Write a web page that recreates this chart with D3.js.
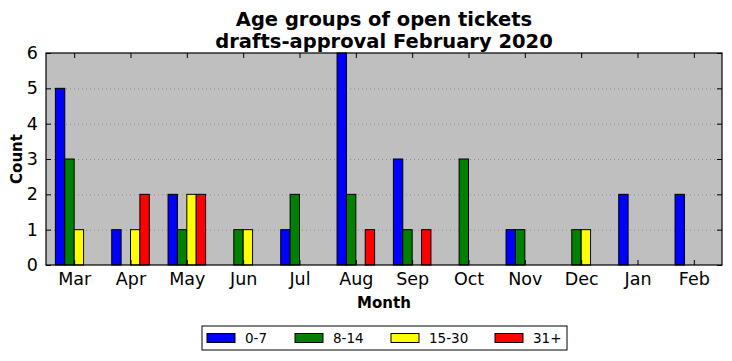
<!DOCTYPE html>
<html>
<head>
<meta charset="utf-8">
<script src="https://cdn.jsdelivr.net/npm/d3@7"></script>
<style>
  body { margin: 0; background: #fff; }
  svg { font-family: "DejaVu Sans", sans-serif; }
</style>
</head>
<body>
<div id="chart"></div>
<script>
// Chart data
const months = ["Mar", "Apr", "May", "Jun", "Jul", "Aug", "Sep", "Oct", "Nov", "Dec", "Jan", "Feb"];
const groups = ["0-7", "8-14", "15-30", "31+"];
const colors = ["#0000ff", "#008000", "#ffff00", "#ff0000"];
const age0to7 = [5, 1, 2, 0, 1, 6, 3, 0, 1, 0, 2, 2];
const age8to14 = [3, 0, 1, 1, 2, 2, 1, 3, 1, 1, 0, 0];
const age15to30 = [1, 1, 2, 1, 0, 0, 0, 0, 0, 1, 0, 0];
const age31plus = [0, 2, 2, 0, 0, 1, 1, 0, 0, 0, 0, 0];
const yTicks = [0, 1, 2, 3, 4, 5, 6];

const series = [age0to7, age8to14, age15to30, age31plus];

const width = 732, height = 361;
const margin = { left: 46, right: 10, top: 53, bottom: 96 };
const plotW = width - margin.left - margin.right;
const plotH = height - margin.top - margin.bottom;

const svg = d3.select("#chart").append("svg")
    .attr("width", width)
    .attr("height", height);

// month index scale, -0.5 .. 11.5
const x = d3.scaleLinear().domain([-0.5, months.length - 0.5]).range([0, plotW]);
const y = d3.scaleLinear().domain([0, 6]).range([plotH, 0]);
const barW = 1 / 6;

const g = svg.append("g").attr("transform", `translate(${margin.left},${margin.top})`);

g.append("rect")
    .attr("width", plotW)
    .attr("height", plotH)
    .attr("fill", "#bfbfbf");

// horizontal dotted grid
g.append("g")
    .selectAll("line")
    .data(yTicks.slice(1, -1))
    .join("line")
    .attr("x1", 0)
    .attr("x2", plotW)
    .attr("y1", d => y(d) + 0.5)
    .attr("y2", d => y(d) + 0.5)
    .attr("stroke", "#8c8c8c")
    .attr("stroke-width", 1)
    .attr("stroke-dasharray", "1,3");

// bars
series.forEach((vals, s) => {
    g.append("g")
        .selectAll("rect")
        .data(vals)
        .join("rect")
        .attr("x", (d, i) => x(i - 2 * barW + s * barW))
        .attr("width", x(barW) - x(0))
        .attr("y", d => y(d))
        .attr("height", d => y(0) - y(d))
        .attr("fill", colors[s])
        .attr("stroke", "#000")
        .attr("stroke-width", 1);
});

// axes (ticks inward, on all sides)
const tickLen = 5;
const xTickVals = d3.range(months.length);

const xBottom = g.append("g")
    .attr("transform", `translate(0,${plotH})`)
    .call(d3.axisBottom(x).tickValues(xTickVals).tickFormat(i => months[i]).tickSize(-tickLen).tickPadding(8));
const xTop = g.append("g")
    .call(d3.axisTop(x).tickValues(xTickVals).tickFormat("").tickSize(-tickLen));
const yLeft = g.append("g")
    .call(d3.axisLeft(y).tickValues(yTicks).tickFormat(d3.format("d")).tickSize(-tickLen).tickPadding(8));
const yRight = g.append("g")
    .attr("transform", `translate(${plotW},0)`)
    .call(d3.axisRight(y).tickValues(yTicks).tickFormat("").tickSize(-tickLen));

[xBottom, xTop, yLeft, yRight].forEach(a => {
    a.select(".domain").remove();
    a.selectAll("line").attr("stroke", "#000");
    a.selectAll("text")
        .attr("fill", "#000")
        .style("font-family", "DejaVu Sans, sans-serif")
        .style("font-size", "17.5px");
});

// frame
g.append("rect")
    .attr("width", plotW)
    .attr("height", plotH)
    .attr("fill", "none")
    .attr("stroke", "#000")
    .attr("stroke-width", 1.2);

// titles
svg.append("text")
    .attr("x", margin.left + plotW / 2)
    .attr("y", 26)
    .attr("text-anchor", "middle")
    .attr("font-size", "19.5px")
    .attr("font-weight", "bold")
    .text("Age groups of open tickets");
svg.append("text")
    .attr("x", margin.left + plotW / 2)
    .attr("y", 48)
    .attr("text-anchor", "middle")
    .attr("font-size", "19.5px")
    .attr("font-weight", "bold")
    .text("drafts-approval February 2020");

svg.append("text")
    .attr("x", margin.left + plotW / 2)
    .attr("y", 308)
    .attr("text-anchor", "middle")
    .attr("font-size", "15px")
    .attr("font-weight", "bold")
    .text("Month");

svg.append("text")
    .attr("transform", `translate(22,${margin.top + plotH / 2}) rotate(-90)`)
    .attr("text-anchor", "middle")
    .attr("font-size", "15px")
    .attr("font-weight", "bold")
    .text("Count");

// legend
const legend = svg.append("g").attr("transform", "translate(202,326)");
legend.append("rect")
    .attr("width", 365)
    .attr("height", 24)
    .attr("fill", "#fff")
    .attr("stroke", "#000")
    .attr("stroke-width", 1);

const legendX = [5, 93, 189, 293];
groups.forEach((name, i) => {
    const item = legend.append("g").attr("transform", `translate(${legendX[i]},0)`);
    item.append("rect")
        .attr("x", 0)
        .attr("y", 7.5)
        .attr("width", 28)
        .attr("height", 9)
        .attr("fill", colors[i])
        .attr("stroke", "#000")
        .attr("stroke-width", 1);
    item.append("text")
        .attr("x", 38)
        .attr("y", 17)
        .attr("font-size", "13.5px")
        .text(name);
});
</script>
</body>
</html>
